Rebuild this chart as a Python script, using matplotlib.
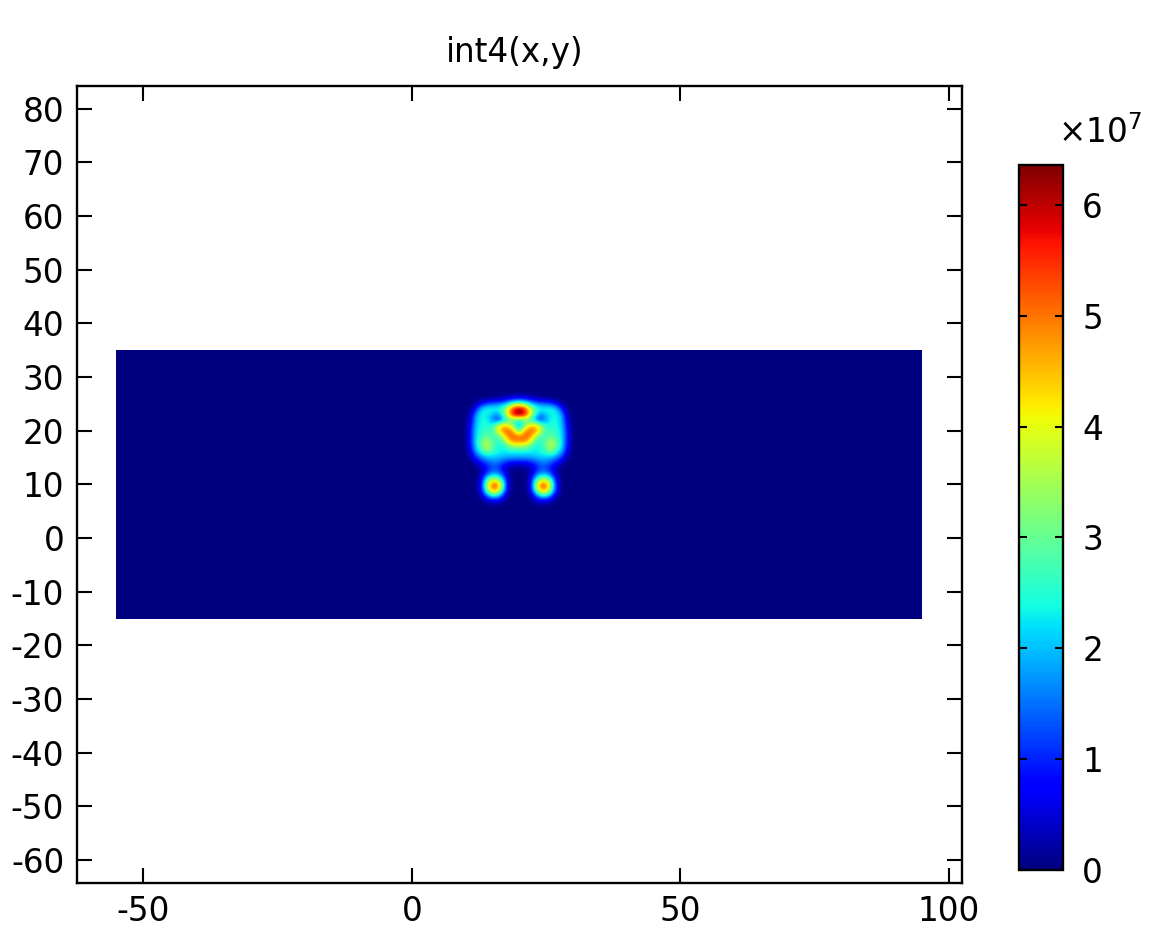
import numpy as np
import matplotlib
matplotlib.use("Agg")
import matplotlib.pyplot as plt
from matplotlib.patches import Rectangle

plt.rcParams["font.family"] = ["DejaVu Sans"]
plt.rcParams["axes.unicode_minus"] = False
plt.rcParams["mathtext.fontset"] = "dejavusans"

title = "int4(x,y)"
domain_x = [-55, 95]
domain_y = [-15, 35]
scale = 1e7
vmax_1e7 = 6.36

# blob samples (units of 1e7), columns x=10..30, rows y=26..6
blob_x = list(range(10, 31))
blob_y = list(range(26, 5, -1))
blob_values_1e7 = [
    [0, 0, 0, 0, 0, 0.1, 0.2, 0.3, 0.5, 0.7, 0.8, 0.7, 0.5, 0.3, 0.2, 0.1, 0, 0, 0, 0, 0],
    [0, 0, 0.2, 0.8, 1.3, 1.5, 1.6, 1.8, 2.4, 3.2, 3.6, 3.2, 2.4, 1.8, 1.6, 1.5, 1.3, 0.8, 0.2, 0, 0],
    [0, 0.1, 1.0, 2.2, 2.5, 2.5, 2.5, 2.8, 4.2, 5.8, 6.3, 5.8, 4.2, 2.8, 2.5, 2.5, 2.5, 2.2, 1.0, 0.1, 0],
    [0, 0.3, 1.8, 2.4, 2.3, 2.0, 1.6, 2.6, 4.3, 5.8, 6.4, 5.8, 4.3, 2.6, 1.6, 2.0, 2.3, 2.4, 1.8, 0.3, 0],
    [0, 0.5, 2.0, 2.4, 2.4, 1.8, 1.0, 1.8, 2.6, 3.0, 2.4, 3.0, 2.6, 1.8, 1.0, 1.8, 2.4, 2.4, 2.0, 0.5, 0],
    [0, 0.7, 2.1, 2.4, 2.5, 2.4, 3.6, 4.4, 4.2, 3.0, 1.6, 3.0, 4.2, 4.4, 3.6, 2.4, 2.5, 2.4, 2.1, 0.7, 0],
    [0, 0.9, 2.2, 2.5, 2.7, 2.6, 4.0, 5.0, 5.2, 4.6, 2.6, 4.6, 5.2, 5.0, 4.0, 2.6, 2.7, 2.5, 2.2, 0.9, 0],
    [0, 0.9, 2.2, 2.6, 3.0, 2.6, 2.8, 3.8, 5.0, 5.2, 5.0, 5.2, 5.0, 3.8, 2.8, 2.6, 3.0, 2.6, 2.2, 0.9, 0],
    [0, 0.9, 2.3, 3.0, 3.6, 3.0, 2.5, 2.8, 4.2, 4.9, 4.9, 4.9, 4.2, 2.8, 2.5, 3.0, 3.6, 3.0, 2.3, 0.9, 0],
    [0, 0.8, 2.2, 2.9, 3.8, 3.0, 2.4, 2.3, 2.8, 3.2, 3.2, 3.2, 2.8, 2.3, 2.4, 3.0, 3.8, 2.9, 2.2, 0.8, 0],
    [0, 0.5, 1.8, 2.4, 3.0, 2.6, 2.4, 2.3, 2.3, 2.3, 2.3, 2.3, 2.3, 2.3, 2.4, 2.6, 3.0, 2.4, 1.8, 0.5, 0],
    [0, 0.2, 1.0, 1.6, 1.9, 2.0, 2.0, 1.9, 1.8, 1.8, 1.8, 1.8, 1.8, 1.9, 2.0, 2.0, 1.9, 1.6, 1.0, 0.2, 0],
    [0, 0, 0.3, 0.8, 1.2, 1.5, 1.5, 1.1, 0.8, 0.6, 0.6, 0.6, 0.8, 1.1, 1.5, 1.5, 1.2, 0.8, 0.3, 0, 0],
    [0, 0, 0, 0.3, 0.8, 1.2, 1.2, 0.7, 0.2, 0.1, 0.1, 0.1, 0.2, 0.7, 1.2, 1.2, 0.8, 0.3, 0, 0, 0],
    [0, 0, 0, 0.3, 1.2, 1.8, 1.8, 1.1, 0.2, 0, 0, 0, 0.2, 1.1, 1.8, 1.8, 1.2, 0.3, 0, 0, 0],
    [0, 0, 0, 0.6, 2.6, 3.6, 3.4, 2.2, 0.3, 0, 0, 0, 0.3, 2.2, 3.4, 3.6, 2.6, 0.6, 0, 0, 0],
    [0, 0, 0, 0.9, 3.4, 5.2, 5.2, 3.0, 0.4, 0, 0, 0, 0.4, 3.0, 5.2, 5.2, 3.4, 0.9, 0, 0, 0],
    [0, 0, 0, 0.8, 3.0, 4.8, 4.6, 2.6, 0.3, 0, 0, 0, 0.3, 2.6, 4.6, 4.8, 3.0, 0.8, 0, 0, 0],
    [0, 0, 0, 0.3, 1.6, 2.6, 2.4, 1.2, 0.1, 0, 0, 0, 0.1, 1.2, 2.4, 2.6, 1.6, 0.3, 0, 0, 0],
    [0, 0, 0, 0, 0.3, 0.6, 0.6, 0.3, 0, 0, 0, 0, 0, 0.3, 0.6, 0.6, 0.3, 0, 0, 0, 0],
    [0] * 21,
]

xticks = [-50, 0, 50, 100]
yticks = list(range(-60, 81, 10))
cbar_ticks = [0, 1, 2, 3, 4, 5, 6]

# assemble field on the whole rectangular domain (1-unit nodes)
nx = domain_x[1] - domain_x[0] + 1
ny = domain_y[1] - domain_y[0] + 1
field = np.zeros((ny, nx))
for i, yv in enumerate(blob_y):
    for j, xv in enumerate(blob_x):
        field[yv - domain_y[0], xv - domain_x[0]] = blob_values_1e7[i][j] * scale

W, H = 1151, 940
fig = plt.figure(figsize=(W / 100, H / 100), dpi=100)
L, R, T, B = 76.7, 961.7, 86.0, 882.7
ax = fig.add_axes([L / W, 1 - B / H, (R - L) / W, (B - T) / H])

im = ax.imshow(field, origin="lower",
               extent=[domain_x[0] - 0.5, domain_x[1] + 0.5, domain_y[0] - 0.5, domain_y[1] + 0.5],
               cmap="jet", vmin=0, vmax=vmax_1e7 * scale,
               interpolation="bicubic", interpolation_stage="data", aspect="auto")
clip = Rectangle((domain_x[0], domain_y[0]), domain_x[1] - domain_x[0], domain_y[1] - domain_y[0],
                 transform=ax.transData, facecolor="none", edgecolor="none")
ax.add_patch(clip)
im.set_clip_path(clip)

ax.set_xlim(-62.4, 102.4)
ax.set_ylim(-64.2, 84.2)
ax.set_xticks(xticks)
ax.set_yticks(yticks)
ax.tick_params(direction="in", length=10.8, width=1.5, top=True, right=True,
               labelsize=23.5, pad=9, colors="black")
for s in ax.spines.values():
    s.set_linewidth(1.7)

fig.text(515 / W, 1 - 62 / H, title, ha="center", va="baseline", fontsize=23.5)

cL, cR, cT, cB = 1019.0, 1062.7, 165.0, 870.0
cax = fig.add_axes([cL / W, 1 - cB / H, (cR - cL) / W, (cB - cT) / H])
cbar = fig.colorbar(im, cax=cax)
cbar.set_ticks([t * scale for t in cbar_ticks])
cbar.set_ticklabels([str(t) for t in cbar_ticks])
cax.tick_params(direction="in", left=True, right=True, length=5.5, width=1.5,
                labelsize=23.5, pad=14)
cbar.outline.set_linewidth(1.7)
fig.text(1058 / W, 1 - 143 / H, r"$\times10^{7}$", ha="left", va="baseline", fontsize=23.5)

fig.savefig("out.png", dpi=100)
